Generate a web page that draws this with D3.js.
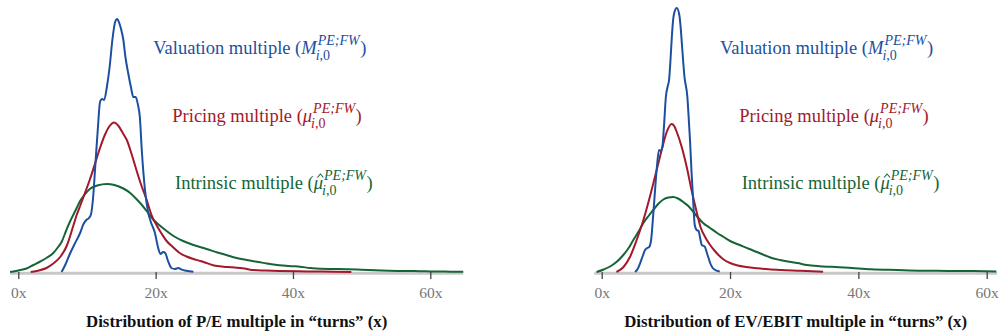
<!DOCTYPE html>
<html>
<head>
<meta charset="utf-8">
<script src="https://cdn.jsdelivr.net/npm/d3@7/dist/d3.min.js"></script>
<style>
  html, body { margin: 0; padding: 0; background: #fff; }
  svg { display: block; font-family: "Liberation Serif", "Times New Roman", serif; }
</style>
</head>
<body>
<svg id="chart" width="1000" height="334"></svg>
<script>
// Kernel density estimates of multiples, in "turns" (x) vs. density (per mille of firms per turn)

// ---- P/E panel ----
const peValuation = [[6.3,0],[6.9,4],[7.5,9],[8.2,14],[9.0,19.5],[9.5,24],[9.9,26],[10.3,27],[10.6,29],[10.9,37.5],[11.2,52.5],[11.6,72.5],[11.9,85],[12.2,86.5],[12.5,86],[12.9,92.5],[13.3,102.5],[13.7,116],[14.1,125],[14.4,126.5],[14.7,124.5],[15.0,121],[15.3,116],[15.6,107.5],[16.0,99.5],[16.4,92.5],[16.75,87.5],[17.1,87.5],[17.4,84],[17.7,77.5],[18.0,60],[18.45,41],[18.9,30],[19.3,25],[19.9,19.5],[20.3,13],[20.7,9],[21.1,10],[21.4,9.5],[21.8,5.5],[22.3,2],[22.8,1.5],[23.3,2],[23.8,1.2],[24.5,0.6],[25.5,0.15]];
const pePricing = [[1.8,0],[3,0.75],[4.1,2],[5,4],[6.1,7.5],[7.05,13],[8.0,23],[8.5,28.5],[9.0,33],[9.7,39.5],[10.4,46],[11.2,54.5],[11.9,62],[12.6,68.5],[13.3,73],[13.94,74.75],[14.6,73],[15.3,69],[15.8,66],[16.5,59],[17.2,51],[17.9,43.5],[18.7,36],[19.4,28.5],[20.2,23],[20.9,19],[21.6,15.5],[22.5,12.5],[23.5,9.5],[24.5,7.75],[25.5,6.5],[26.5,5.5],[27.4,4.5],[28.5,3.25],[29.9,2.65],[31,2.4],[32.3,2],[33.3,1.5],[34.2,1],[36,0.75],[38,0.55],[42,0.3],[46,0.15],[48.5,0.05]];
const peIntrinsic = [[-1.2,0],[0,0.75],[1.2,1.75],[2.2,3.5],[3.2,5.25],[4.2,7.25],[5.1,9.5],[5.8,12.5],[6.3,15],[7.0,21],[7.5,25],[8.0,28.5],[8.5,32],[9.0,35.5],[9.5,38],[10.4,41.5],[11.5,43.25],[12.9,44],[14.0,43.5],[15.3,41.75],[16.3,39.5],[17.2,36.5],[18.0,33.5],[18.7,30.5],[19.7,26],[20.6,23.25],[21.6,20.5],[22.6,18],[24.0,15.5],[25.5,13.5],[27.4,11.5],[29.0,9.75],[30.3,8.5],[31.5,7.25],[33.3,6],[35.0,5],[36.2,4.25],[38,3.4],[40,2.9],[41,2.65],[42.5,2],[44,1.6],[46,1.5],[48,1.4],[50,1.15],[52,0.9],[54,0.65],[57,0.5],[60,0.3],[63,0.15],[64.8,0.1]];

// ---- EV/EBIT panel ----
const evValuation = [[5.2,0],[5.6,1.5],[6.0,4.5],[6.4,8],[6.75,11],[7.1,12],[7.4,12.5],[7.7,16],[8.05,29.5],[8.35,42.5],[8.6,52.5],[8.93,61],[9.2,60.5],[9.45,62.5],[9.7,72.5],[10.0,87.5],[10.3,93],[10.5,96],[10.7,105],[10.9,116],[11.1,125],[11.3,129.5],[11.7,132],[12.1,128.5],[12.3,122.5],[12.5,114],[12.9,97.5],[13.35,87.5],[13.55,77.5],[13.76,66],[14.0,50],[14.2,39],[14.5,23.5],[14.8,21],[15.1,20.5],[15.4,16],[15.6,13.5],[15.9,13],[16.1,12.5],[16.4,9.5],[16.6,7.5],[16.9,4.5],[17.3,2],[17.7,1],[18.4,0.25]];
const evPricing = [[2.3,0],[3.4,2.5],[4.4,7.5],[5.45,16],[6.5,26],[7.5,37.5],[8.57,51],[9.35,61],[10.13,70],[10.9,74],[11.3,73],[11.7,70],[12.47,62.5],[13.25,52.5],[14.0,41],[14.8,30],[15.4,22.5],[16.2,17],[16.9,13.5],[17.5,11],[18.2,8.5],[19.0,6.25],[20.0,4.5],[21.2,3.25],[22.5,2.5],[24.2,1.85],[26,1.35],[28,1],[31,0.65],[34.5,0.15]];
const evIntrinsic = [[-0.8,0],[0.3,1.25],[1.3,2.75],[2.3,5],[3.37,8.5],[4.2,12],[4.93,16],[5.7,20],[6.5,24.5],[7.3,28],[8.05,31],[8.8,34],[9.6,36.25],[10.4,37.25],[11.16,37.5],[11.9,36.75],[12.7,35],[13.5,33],[14.3,30],[15.0,27.25],[15.8,24.5],[16.9,22],[18,19.5],[19,17.5],[20,15.5],[21.5,13.5],[23,11.5],[24.2,10],[25.5,8.25],[26.5,7],[27.8,6],[29,5.25],[30.5,4.5],[32,3.5],[34,2.9],[37,2.4],[39,2],[42,1.4],[46,1],[50,0.65],[54,0.55],[58,0.45],[61.5,0.3]];

const tickValues = [0, 20, 40, 60];
const panelTitles = ["Distribution of P/E multiple in \u201cturns\u201d (x)", "Distribution of EV/EBIT multiple in \u201cturns\u201d (x)"];
const seriesNames = ["Valuation multiple (", "Pricing multiple (", "Intrinsic multiple ("];
const seriesSymbols = ["M", "\u03bc", "\u03bc"];
const seriesHat = [false, false, true];
const colors = ["#1d4f9f", "#a3182b", "#166536"];

const svg = d3.select("#chart");

const panels = [
  { data: [peValuation, pePricing, peIntrinsic], range: [18.3, 430.3], axisExtent: [-1.2, 64.8], labelX: [153.3, 172.3, 175], title: panelTitles[0] },
  { data: [evValuation, evPricing, evIntrinsic], range: [601.7, 986.7], axisExtent: [-1.15, 61.6], labelX: [720, 739.3, 741.7], title: panelTitles[1] }
];

const baseY = 272;
const y = d3.scaleLinear().domain([0, 132]).range([baseY, 8]);
const labelBaselines = [53.5, 121.5, 188.5];

panels.forEach(p => {
  const x = d3.scaleLinear().domain([0, 60]).range(p.range);
  const g = svg.append("g");

  // baseline
  g.append("line")
    .attr("x1", x(p.axisExtent[0])).attr("x2", x(p.axisExtent[1]))
    .attr("y1", baseY + 1.2).attr("y2", baseY + 1.2)
    .attr("stroke", "#c8c8c8").attr("stroke-width", 3);

  // density curves (intrinsic drawn first, valuation on top)
  const line = d3.line().x(d => x(d[0])).y(d => y(d[1])).curve(d3.curveMonotoneX);
  [2, 1, 0].forEach(i => {
    g.append("path")
      .datum(p.data[i])
      .attr("d", line)
      .attr("fill", "none")
      .attr("stroke", colors[i])
      .attr("stroke-width", 2)
      .attr("stroke-linejoin", "round");
  });

  // x axis
  const axis = d3.axisBottom(x)
    .tickValues(tickValues)
    .tickFormat(d => d + "x")
    .tickSize(7)
    .tickPadding(8);
  const ax = g.append("g").attr("transform", `translate(0,${baseY})`).call(axis);
  ax.select(".domain").remove();
  ax.selectAll(".tick line").attr("stroke", "#444").attr("stroke-width", 1.3);
  ax.selectAll(".tick text")
    .attr("fill", "#777")
    .style("font-family", "'Liberation Serif', 'Times New Roman', serif")
    .style("font-size", "15.5px");

  // axis title
  g.append("text")
    .attr("x", (x(p.axisExtent[0]) + x(p.axisExtent[1])) / 2)
    .attr("y", 327)
    .attr("text-anchor", "middle")
    .attr("font-weight", "bold")
    .attr("font-size", 16.8)
    .attr("fill", "#111")
    .text(p.title);

  // series labels with super/subscripts
  seriesNames.forEach((name, i) => {
    const by = labelBaselines[i];
    const t = g.append("text")
      .attr("x", p.labelX[i]).attr("y", by)
      .attr("font-size", 18.5)
      .attr("fill", colors[i]);
    const lead = t.append("tspan").text(name);
    t.append("tspan").attr("font-style", "italic").text(seriesSymbols[i]);
    const leadW = lead.node().getComputedTextLength();
    const totalW = t.node().getComputedTextLength();
    const endX = p.labelX[i] + totalW;
    if (seriesHat[i]) {
      // circumflex accent over the estimated multiple
      const cx = p.labelX[i] + leadW + (totalW - leadW) / 2 + 2;
      g.append("path")
        .attr("d", `M${cx - 3},${by - 11} L${cx},${by - 14.5} L${cx + 3},${by - 11}`)
        .attr("fill", "none")
        .attr("stroke", colors[i])
        .attr("stroke-width", 1.1);
    }
    const sup = g.append("text")
      .attr("x", endX + 1).attr("y", by - 8.5)
      .attr("font-size", 14).attr("font-style", "italic")
      .attr("fill", colors[i]).text("PE;FW");
    const sub = g.append("text")
      .attr("x", endX - 1).attr("y", by + 6.5)
      .attr("font-size", 14)
      .attr("fill", colors[i]);
    sub.append("tspan").attr("font-style", "italic").text("i");
    sub.append("tspan").text(",0");
    const w = Math.max(sup.node().getComputedTextLength() + 1, sub.node().getComputedTextLength() - 1);
    g.append("text")
      .attr("x", endX + w + 0.5).attr("y", by)
      .attr("font-size", 18.5)
      .attr("fill", colors[i]).text(")");
  });
});
</script>
</body>
</html>
